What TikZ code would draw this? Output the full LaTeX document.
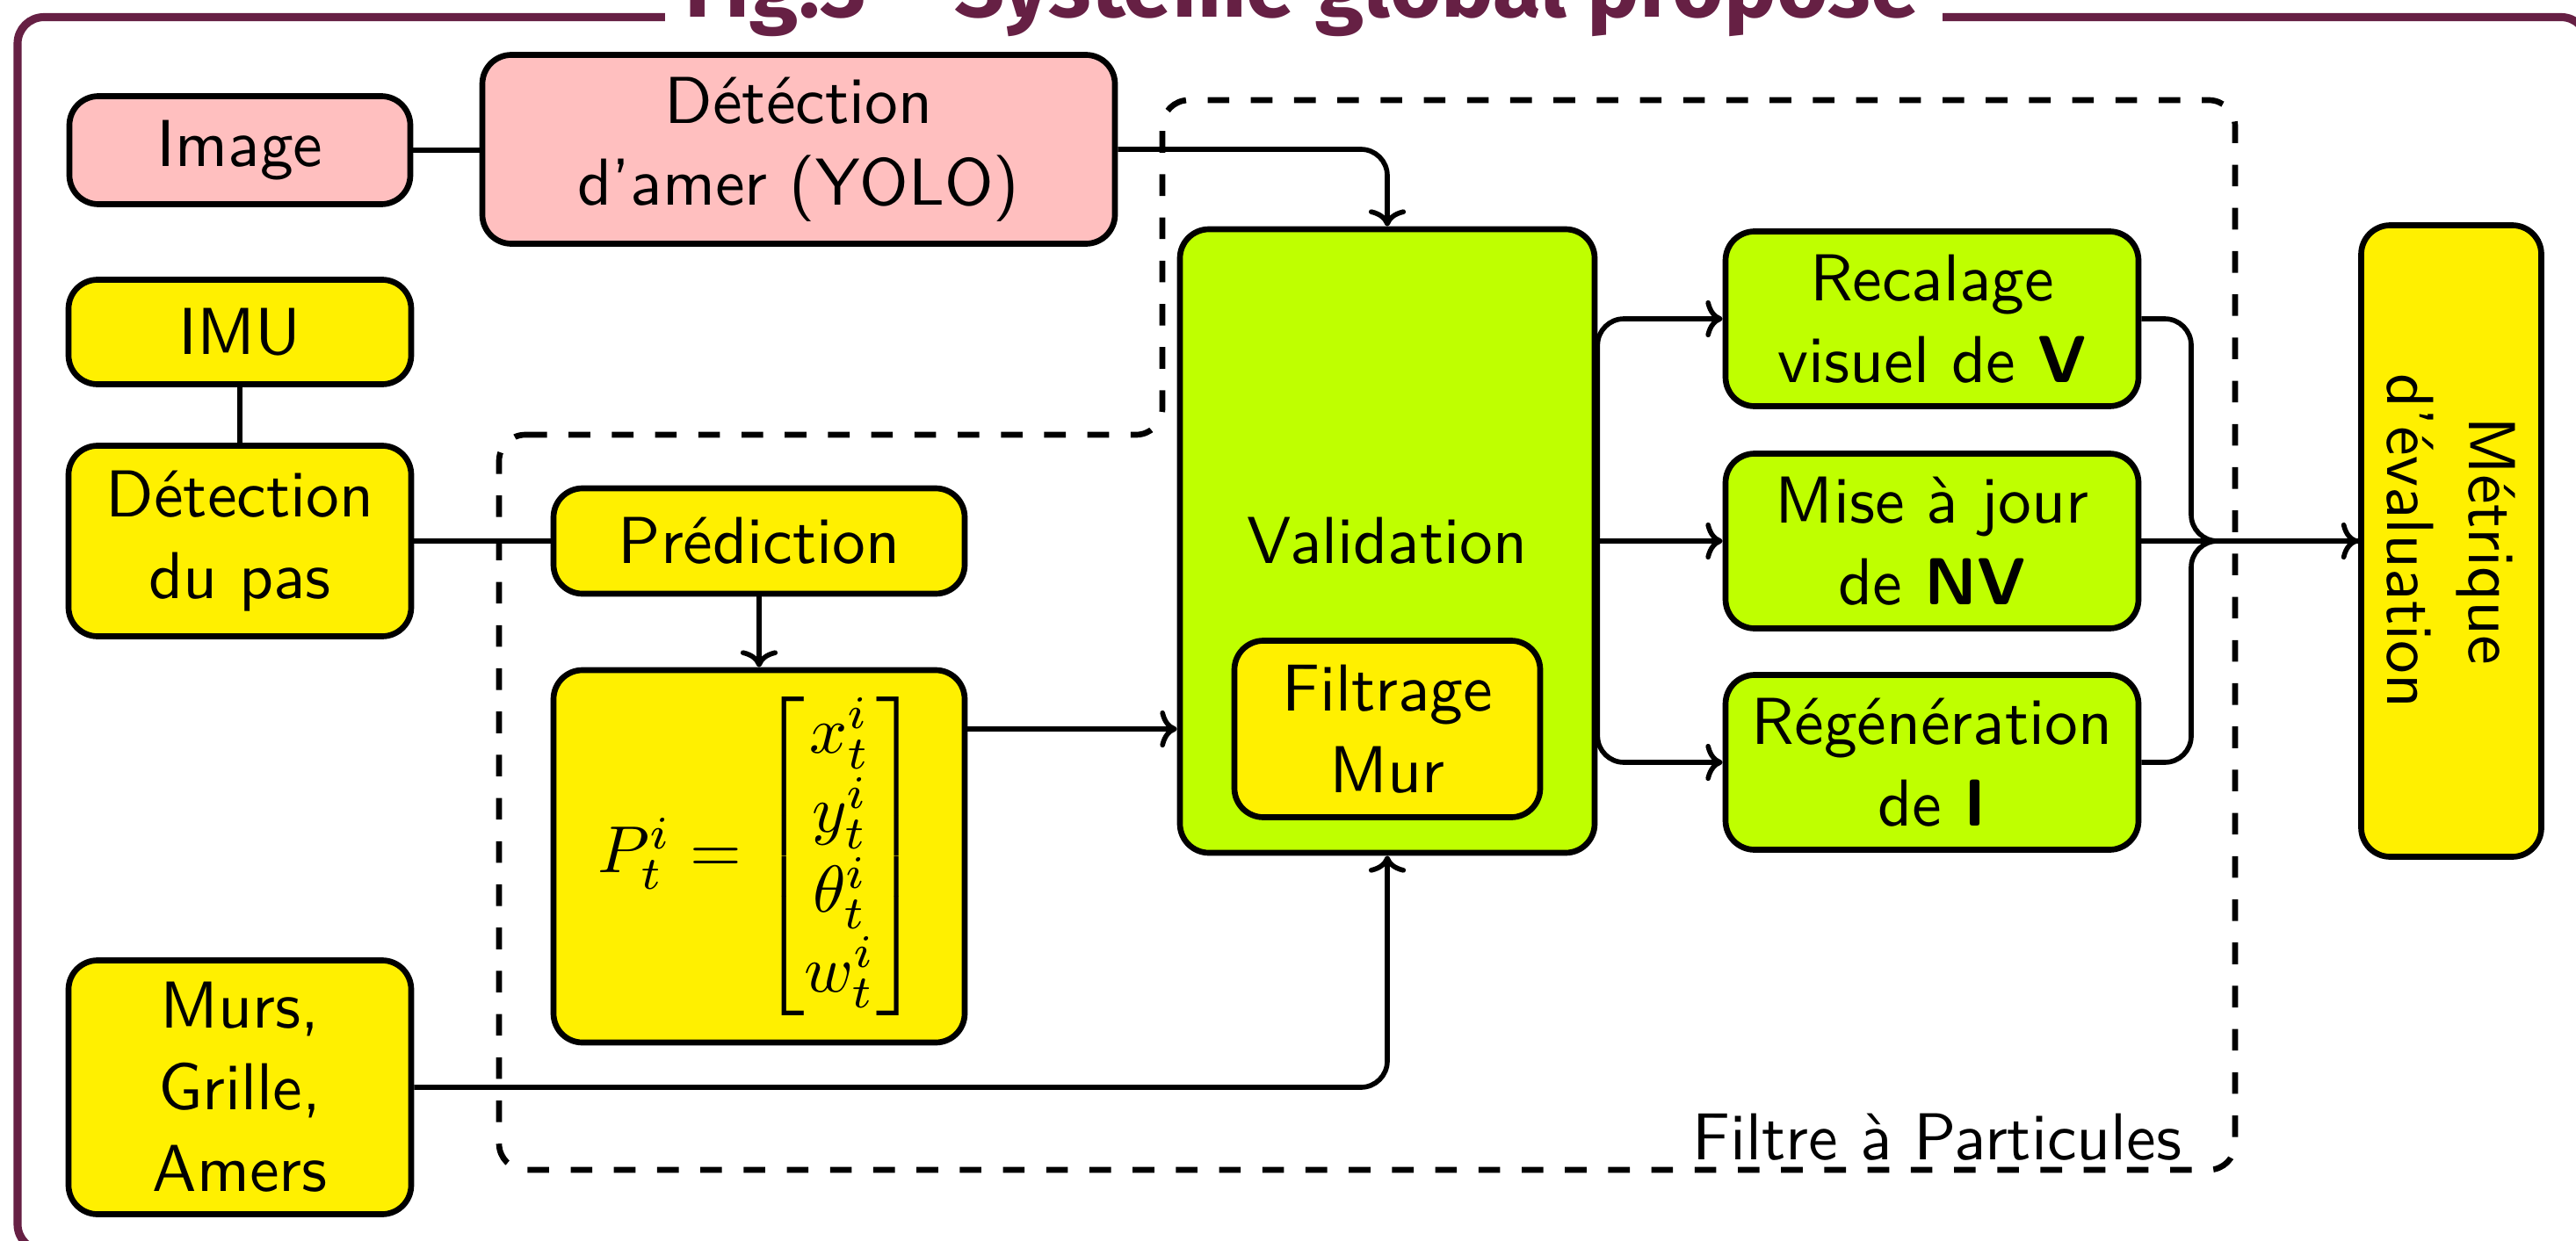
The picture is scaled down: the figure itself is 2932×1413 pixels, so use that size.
\documentclass[tikz,border=0pt]{standalone}
\usepackage{amsmath}
\usepackage{graphicx}
\usepackage{fontspec}
\newfontfamily\titlefont{Fira Sans}
\newfontfamily\lmsten{lmsans10}[Extension=.otf, UprightFont=*-regular, BoldFont=*-bold]
\usetikzlibrary{arrows.meta}
\definecolor{frameC}{RGB}{102,32,68}
\definecolor{pinkC}{RGB}{255,191,191}
\definecolor{yelC}{RGB}{255,240,0}
\definecolor{limeC}{RGB}{191,255,0}
\newcommand\dfont{\lmsten\fontsize{21.5}{26.5}\selectfont}
\begin{document}
\begin{tikzpicture}[x=0.1mm,y=-0.1mm,
  box/.style={draw=black, line width=1.9pt, rounded corners=3.3mm, align=center, inner sep=0pt, font=\dfont},
  pinkbox/.style={box, fill=pinkC},
  yelbox/.style={box, fill=yelC},
  limebox/.style={box, fill=limeC},
  conn/.style={line width=1.6pt, rounded corners=3mm},
  arr/.style={conn, -{To[length=5.5pt,width=12pt]}},
  dashbox/.style={line width=1.9pt, dash pattern=on 7pt off 7pt, rounded corners=3mm}]
\useasboundingbox (0,0) rectangle (2932,1413);
% frame and title
\draw[frameC, line width=2.6pt, rounded corners=3mm] (20,19.5) rectangle (2945,1424);
\fill[white] (757,2) rectangle (2211,40);
\node[anchor=base, text=frameC, font=\titlefont\bfseries\fontsize{28.5}{31}\selectfont, inner sep=0pt] (title) at (1482,19) {Fig.3 – Système global proposé};
% particle filter region
\draw[dashbox] (568,495) -- (1323,495) -- (1323,114) -- (2544,114) -- (2544,1332) -- (568,1332) -- cycle;
\node[font=\dfont, anchor=base east, inner sep=0pt] (pflab) at (2484,1320) {Filtre à Particules};
% nodes
\node[pinkbox, minimum width=38.8mm, minimum height=12.3mm] (img) at (273,171) {Image};
\node[pinkbox, minimum width=72mm, minimum height=21.5mm] (amer) at (909,170) {Détéction\\d’amer (YOLO)};
\node[yelbox, minimum width=39mm, minimum height=11.9mm] (imu) at (273,378) {IMU};
\node[yelbox, minimum width=39mm, minimum height=21.7mm] (pas) at (273,616) {Détection\\du pas};
\node[yelbox, minimum width=39mm, minimum height=28.9mm] (murs) at (273,1238) {Murs,\\Grille,\\Amers};
\node[yelbox, minimum width=46.8mm, minimum height=12mm] (pred) at (864,616) {Prédiction};
\node[yelbox, minimum width=46.8mm, minimum height=42.4mm] (pbox) at (864,975) {\fontsize{10}{12}\selectfont\scalebox{2.15}{$P_t^i = \begin{bmatrix} x_t^i \\ y_t^i \\ \theta_t^i \\ w_t^i \end{bmatrix}$}};
\node[limebox, minimum width=47.2mm, minimum height=71mm] (val) at (1579,616) {Validation};
\node[yelbox, minimum width=34.8mm, minimum height=20.1mm] (filt) at (1579,830) {Filtrage\\Mur};
\node[limebox, minimum width=47mm, minimum height=19.9mm] (rec) at (2199,363) {Recalage\\visuel de \textbf{V}};
\node[limebox, minimum width=47mm, minimum height=19.9mm] (maj) at (2199,616) {Mise à jour\\de \textbf{NV}};
\node[limebox, minimum width=47mm, minimum height=19.9mm] (reg) at (2199,868) {Régénération\\de \textbf{I}};
\node[yelbox, rotate=-90, minimum width=71.9mm, minimum height=20.5mm] (met) at (2790,616) {Métrique\\d’évaluation};
\coordinate (mj) at (2494,616);
% connectors
\draw[conn] (img.east) -- (amer.west |- img.east);
\draw[arr] (amer.east) -| (val.north);
\draw[conn] (imu) -- (pas);
\draw[conn] (pas.east) -- (pred.west |- pas.east);
\draw[arr] (pred) -- (pbox);
\draw[arr] (pbox.east |- filt) -- (val.west |- filt);
\draw[arr] (murs.east) -| (val.south);
\draw[arr] (val.east) |- (rec.west);
\draw[arr] (val.east) -- (maj.west);
\draw[arr] (val.east) |- (reg.west);
\draw[conn] (rec.east) -| (mj) -- (met.south);
\draw[conn] (reg.east) -| (mj) -- (met.south);
\draw[arr] (maj.east) -- (met.south);
\end{tikzpicture}
\end{document}
